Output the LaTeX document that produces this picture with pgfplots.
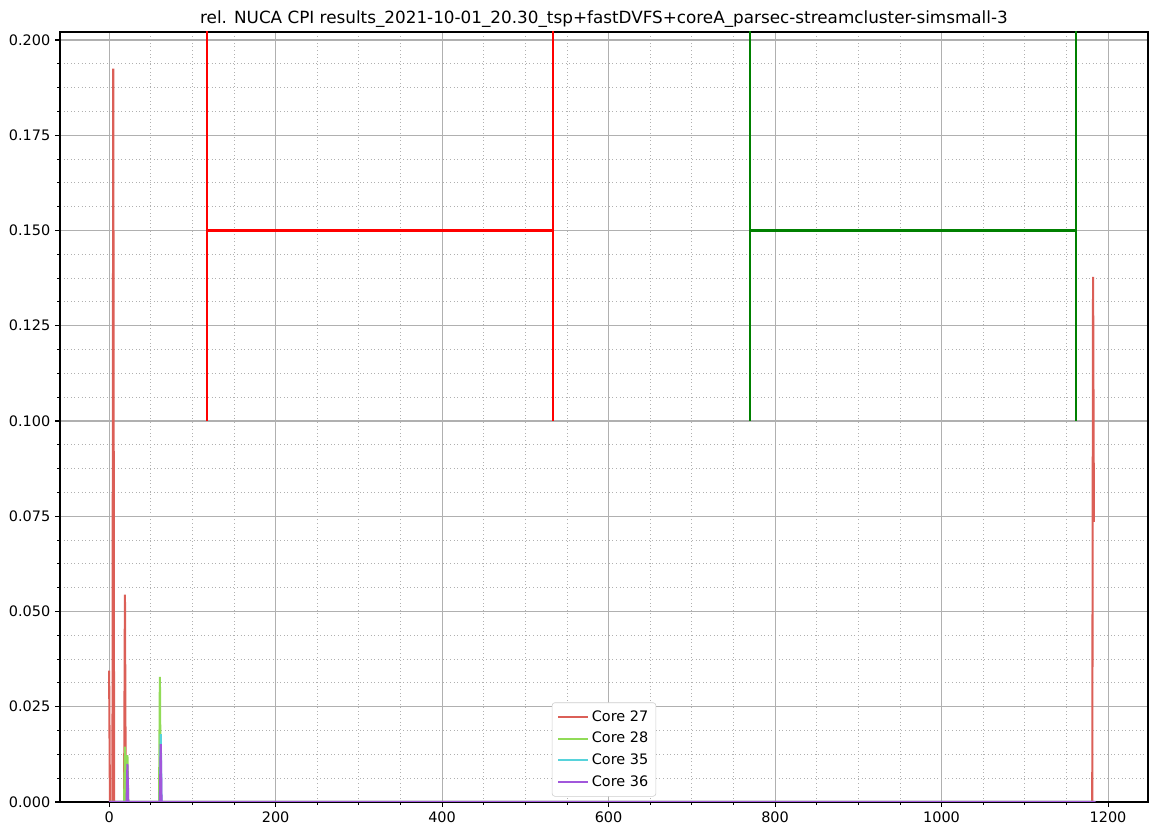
\documentclass[border=0pt]{standalone}
\usepackage{fontspec}
\setmainfont{DejaVu Sans}
\usepackage{pgfplots}
\pgfplotsset{compat=1.18}
\definecolor{c27}{HTML}{DB5F57}
\definecolor{c28}{HTML}{91DB57}
\definecolor{c35}{HTML}{57D3DB}
\definecolor{c36}{HTML}{A157DB}
\definecolor{gridc}{HTML}{B0B0B0}
\definecolor{mplgreen}{HTML}{008000}
\begin{document}
\begin{tikzpicture}
\begin{axis}[
  width=783.4pt, height=554.4pt, scale only axis,
  xmin=-59, xmax=1248, ymin=0, ymax=0.2021,
  xtick={0,200,400,600,800,1000,1200},
  ytick={0,0.025,0.05,0.075,0.1,0.125,0.15,0.175,0.2},
  minor x tick num=3, minor y tick num=3,
  grid=both,
  major grid style={color=gridc, line width=0.8pt},
  minor grid style={color=gridc, line width=0.6pt, dotted},
  axis line style={black, line width=0.8pt},
  tick align=outside, tick pos=left,
  major tick length=3.5pt, minor tick length=2pt,
  major tick style={black, line width=0.8pt},
  minor tick style={black, line width=0.6pt},
  tick label style={font=\fontsize{10.4}{12}\selectfont},
  /pgf/number format/assume math mode=true,
  /pgf/number format/1000 sep={},
  yticklabel style={/pgf/number format/.cd, fixed, fixed zerofill, precision=3},
  xticklabel style={/pgf/number format/.cd, fixed, precision=0},
  scaled y ticks=false,
  title={rel. NUCA CPI results\_2021-10-01\_20.30\_tsp+fastDVFS+coreA\_parsec-streamcluster-simsmall-3},
  title style={font=\fontsize{12.1}{14}\selectfont, at={(0.5,1)}, anchor=south, yshift=-6pt},
  every axis plot/.append style={line width=1.5pt},
  legend cell align=left,
  legend style={at={(0.5,0.007)}, anchor=south, draw=gray!40, rounded corners=2pt,
    font=\fontsize{10.4}{12}\selectfont, row sep=2.5pt, inner sep=3.5pt},
  legend image code/.code={\draw[#1, line width=1.5pt] (0cm,0cm) -- (0.76cm,0cm);},
  clip=true,
]
\coordinate (sw) at (rel axis cs:0,0);
\coordinate (ne) at (rel axis cs:1,1);
\addplot[color=c27] coordinates {
(0,0.0345)(1,0)(4,0)(5,0.1925)(6,0)(18,0)(19,0.0544)(20,0)(1181,0)(1182,0.1378)(1183,0.0735)};
\addlegendentry{Core 27}
\addplot[color=c28] coordinates {
(0,0)(18,0)(19,0.0145)(20,0)(21,0)(22,0.0123)(23,0)(60,0)(61,0.0328)(62,0)(1184,0)};
\addlegendentry{Core 28}
\addplot[color=c35] coordinates {
(0,0)(61,0)(62,0.0178)(63,0)(1184,0)};
\addlegendentry{Core 35}
\addplot[color=c36] coordinates {
(0,0)(21,0)(22,0.0100)(23,0)(61,0)(62,0.0152)(63,0)(1185,0)};
\addlegendentry{Core 36}
\addplot[color=red, forget plot] coordinates {(118,0.1)(118,0.25)};
\addplot[color=red, forget plot] coordinates {(533,0.1)(533,0.25)};
\addplot[color=red, forget plot] coordinates {(118,0.15)(533,0.15)};
\addplot[color=mplgreen, forget plot] coordinates {(770,0.1)(770,0.25)};
\addplot[color=mplgreen, forget plot] coordinates {(1162,0.1)(1162,0.25)};
\addplot[color=mplgreen, forget plot] coordinates {(770,0.15)(1162,0.15)};
\end{axis}
\pgfresetboundingbox
\path ([shift={(-43.2pt,-24.48pt)}]sw) rectangle ([shift={(6.48pt,23.04pt)}]ne);
\end{tikzpicture}
\end{document}
